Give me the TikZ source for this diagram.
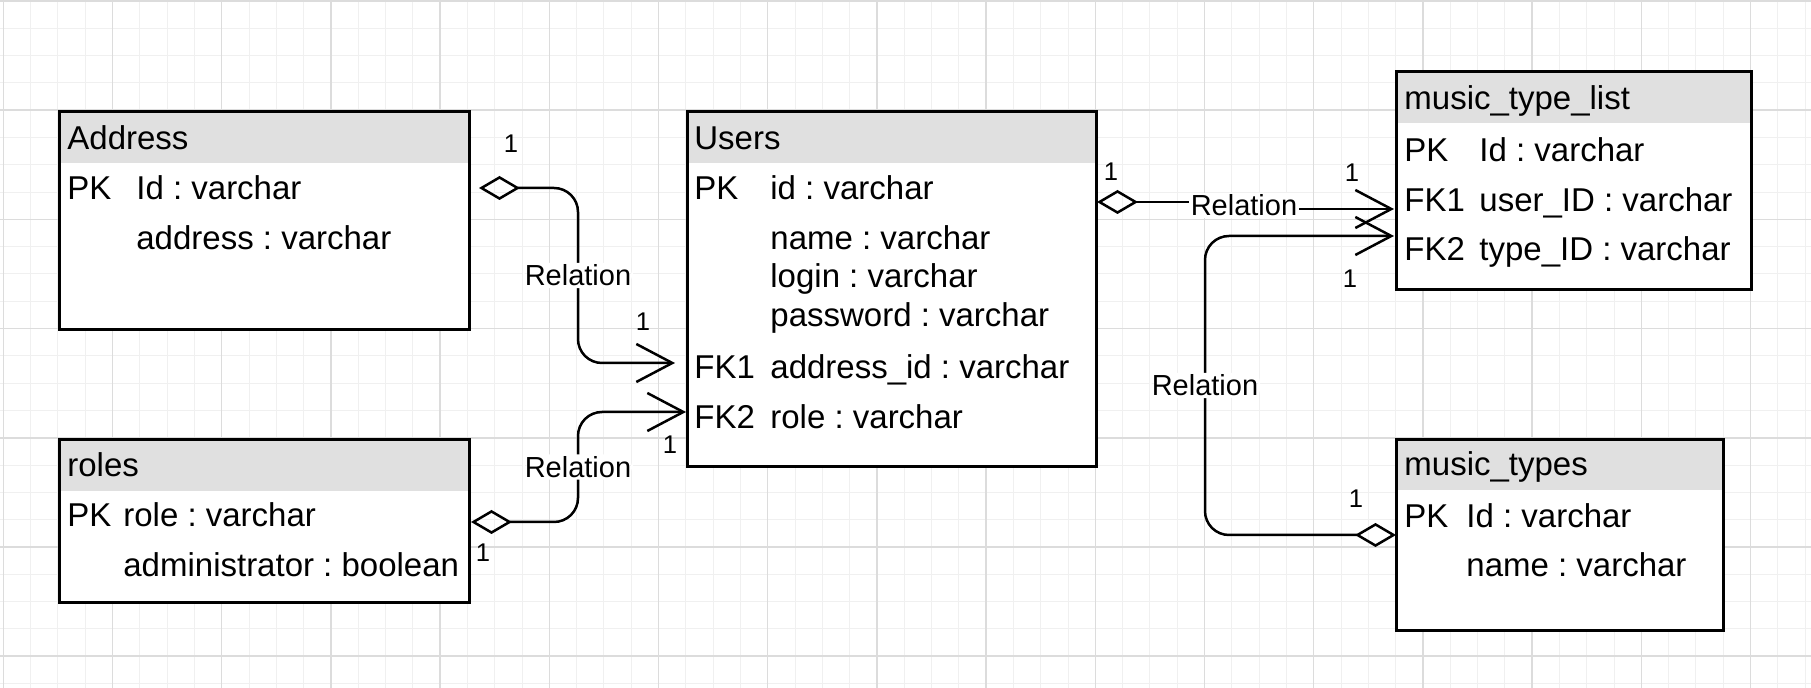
\documentclass[tikz,border=0pt]{standalone}
\usepackage{fontspec}
\setmainfont{Liberation Sans}
\usetikzlibrary{arrows.meta,fit}
\definecolor{gridmajor}{HTML}{DCDCDC}
\definecolor{gridminor}{HTML}{F0F0F0}
\definecolor{hdrgray}{HTML}{E0E0E0}
\frenchspacing
\begin{document}
\begin{tikzpicture}[x=0.5pt,y=-0.5pt,
  tbl/.style={draw=black,line width=1.5pt,fill=white,inner sep=0pt},
  hdr/.style={fill=hdrgray,inner sep=0pt},
  txt/.style={anchor=base west,inner sep=0pt,font=\fontsize{16.5pt}{19pt}\selectfont\frenchspacing},
  lbl/.style={fill=white,inner sep=1pt,font=\fontsize{14.5pt}{17pt}\selectfont},
  card/.style={inner sep=0pt,font=\fontsize{12.8pt}{15pt}\selectfont},
  rel/.style={line width=1.25pt,rounded corners=12pt,
    arrows={Diamond[open,length=20.5pt,width=12pt]-Straight Barb[length=18pt,width=19pt]}},
  gminor/.style={draw=gridminor,line width=0.5pt},
  gmajor/.style={draw=gridmajor,line width=0.75pt}
]
\useasboundingbox[fill=white] (0,0) rectangle (1811,688);
% grid
\foreach \i in {0,...,66}{\draw[gminor] ({3.3+27.3*\i},0) -- ({3.3+27.3*\i},688);}
\foreach \j in {0,...,25}{\draw[gminor] (0,{1+27.3*\j}) -- (1811,{1+27.3*\j});}
\foreach \i in {0,...,16}{\draw[gmajor] ({3.3+109.2*\i},0) -- ({3.3+109.2*\i},688);}
\foreach \j in {0,...,6}{\draw[gmajor] (0,{1+109.2*\j}) -- (1811,{1+109.2*\j});}

% ---- Address
\node[tbl,fit={(59,112)(469,330)}] (address) {};
\node[hdr,fit={(60.5,113.5)(467.5,163)}] (addressH) {};
\node[txt] (addressT) at (67,150) {Address};
\node[txt] (addressK1) at (67,200) {PK};
\node[txt] (addressA1) at (136,200) {Id : varchar};
\node[txt] (addressA2) at (136,250) {address : varchar};

% ---- roles
\node[tbl,fit={(59,440)(469,603)}] (roles) {};
\node[hdr,fit={(60.5,441.5)(467.5,491)}] (rolesH) {};
\node[txt] (rolesT) at (67,477) {roles};
\node[txt] (rolesK1) at (67,527) {PK};
\node[txt] (rolesA1) at (123,527) {role : varchar};
\node[txt] (rolesA2) at (123,577) {administrator : boolean};

% ---- Users
\node[tbl,fit={(687,112)(1096,467)}] (users) {};
\node[hdr,fit={(688.5,113.5)(1094.5,163)}] (usersH) {};
\node[txt] (usersT) at (694,150) {Users};
\node[txt] (usersK1) at (694,200) {PK};
\node[txt] (usersA1) at (770,200) {id : varchar};
\node[txt] (usersA2) at (770,250) {name : varchar};
\node[txt] (usersA3) at (770,288) {login : varchar};
\node[txt] (usersA4) at (770,327) {password : varchar};
\node[txt] (usersK2) at (694,379) {FK1};
\node[txt] (usersA5) at (770,379) {address\_id : varchar};
\node[txt] (usersK3) at (694,429) {FK2};
\node[txt] (usersA6) at (770,429) {role : varchar};

% ---- music_type_list
\node[tbl,fit={(1396,72)(1751,290)}] (mtl) {};
\node[hdr,fit={(1397.5,73.5)(1749.5,123)}] (mtlH) {};
\node[txt] (mtlT) at (1404,110) {music\_type\_list};
\node[txt] (mtlK1) at (1404,162) {PK};
\node[txt] (mtlA1) at (1479,162) {Id : varchar};
\node[txt] (mtlK2) at (1404,212) {FK1};
\node[txt] (mtlA2) at (1479,212) {user\_ID : varchar};
\node[txt] (mtlK3) at (1404,261) {FK2};
\node[txt] (mtlA3) at (1479,261) {type\_ID : varchar};

% ---- music_types
\node[tbl,fit={(1396,440)(1723,631)}] (mt) {};
\node[hdr,fit={(1397.5,441.5)(1721.5,490)}] (mtH) {};
\node[txt] (mtT) at (1404,476) {music\_types};
\node[txt] (mtK1) at (1404,528) {PK};
\node[txt] (mtA1) at (1466,528) {Id : varchar};
\node[txt] (mtA2) at (1466,577) {name : varchar};

% ---- ports
\coordinate (addrP) at (479,188);
\coordinate (usrFK1) at (675,363);
\coordinate (rolesP) at (471,522);
\coordinate (usrFK2) at (686,412);
\coordinate (usrP) at (1097,202);
\coordinate (mtlFK1) at (1394,209);
\coordinate (mtP) at (1396,535);
\coordinate (mtlFK2) at (1394,236);

% ---- connectors
\draw[rel] (addrP) -- (578,188) -- node[lbl] (relA) {Relation} (578,363) -- (usrFK1);
\draw[rel] (rolesP) -- (578,522) -- node[lbl] (relB) {Relation} (578,412) -- (usrFK2);
\draw[rel,sharp corners] (usrP) -- (1244,202) -- node[lbl] (relC) {Relation} (1244,209) -- (mtlFK1);
\draw[rel] (mtP) -- (1205,535) -- node[lbl] (relD) {Relation} (1205,236) -- (mtlFK2);

% ---- cardinalities
\node[card] (c1) at (511,144) {1};
\node[card] (c2) at (643,322) {1};
\node[card] (c3) at (483,553) {1};
\node[card] (c4) at (670,445) {1};
\node[card] (c5) at (1111,172) {1};
\node[card] (c6) at (1352,173) {1};
\node[card] (c7) at (1350,279) {1};
\node[card] (c8) at (1356,499) {1};
\end{tikzpicture}
\end{document}
